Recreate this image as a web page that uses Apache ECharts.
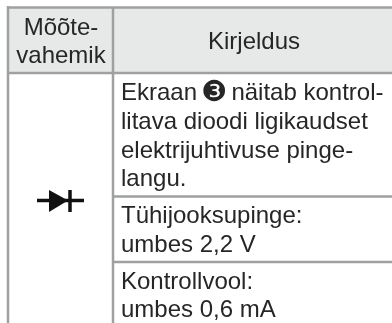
<!DOCTYPE html>
<html lang="et">
<head>
    <meta charset="UTF-8">
    <title>Mõõtevahemik</title>
    <script src="https://cdn.jsdelivr.net/npm/echarts@6/dist/echarts.min.js"></script>
    <style>
        html, body { margin: 0; padding: 0; background: #fff; }
    </style>
</head>
<body>
    <div id="main" style="width: 392px;height: 323px"></div>
    <script type="text/javascript">
        var headLeft = ['Mõõte-', 'vahemik'];
        var headRight = ['Kirjeldus'];
        var rowOne = ['Ekraan {c|❸} näitab kontrol-', 'litava dioodi ligikaudset', 'elektrijuhtivuse pinge-', 'langu.'];
        var rowTwo = ['Tühijooksupinge:', 'umbes 2,2 V'];
        var rowThree = ['Kontrollvool:', 'umbes 0,6 mA'];

        var lineColor = '#9fa0a1';
        var headFill = '#e7e8e8';
        var textColor = '#262626';
        var font = '"Liberation Sans", "DejaVu Sans", sans-serif';

        function hline(y, x1, x2) {
            return { type: 'line', shape: { x1: x1, y1: y, x2: x2, y2: y }, style: { stroke: lineColor, lineWidth: 2.5 } };
        }
        function vline(x, y1, y2) {
            return { type: 'line', shape: { x1: x, y1: y1, x2: x, y2: y2 }, style: { stroke: lineColor, lineWidth: 2.5 } };
        }
        function label(str, x, y, align) {
            return {
                type: 'text', x: x, y: y,
                style: {
                    text: str, fill: textColor, font: '24px ' + font, align: align || 'left', verticalAlign: 'middle',
                    rich: { c: { fontFamily: 'DejaVu Sans', fontSize: 29, width: 21, align: 'center', fill: textColor } }
                }
            };
        }

        var items = [
            { type: 'rect', shape: { x: 8, y: 7, width: 384, height: 66 }, style: { fill: headFill } },
            hline(7.5, 7, 392), hline(73, 8, 392), hline(196.5, 113, 392), hline(262, 113, 392),
            vline(8, 6, 323), vline(113, 7, 323)
        ];

        var headYs = [28, 56];
        headLeft.forEach(function (s, i) { items.push(label(s, 61, headYs[i], 'center')); });
        items.push(label(headRight[0], 254, 42, 'center'));

        // y of each text line
        var rowOneYs = [93, 122, 151, 179];
        var rowTwoYs = [216, 245];
        var rowThreeYs = [282, 310];
        rowOne.forEach(function (s, i) { items.push(label(s, 121, rowOneYs[i])); });
        rowTwo.forEach(function (s, i) { items.push(label(s, 121, rowTwoYs[i])); });
        rowThree.forEach(function (s, i) { items.push(label(s, 121, rowThreeYs[i])); });

        // diode symbol
        items.push({ type: 'line', shape: { x1: 37, y1: 200.5, x2: 84, y2: 200.5 }, style: { stroke: '#111', lineWidth: 3.5 } });
        items.push({ type: 'polygon', shape: { points: [[49, 190], [68, 200.5], [49, 212]] }, style: { fill: '#111' } });
        items.push({ type: 'line', shape: { x1: 70, y1: 190, x2: 70, y2: 212 }, style: { stroke: '#111', lineWidth: 3.5 } });

        var myChart = echarts.init(document.getElementById('main'));
        myChart.setOption({
            animation: false,
            graphic: { elements: items }
        });
    </script>
</body>
</html>
